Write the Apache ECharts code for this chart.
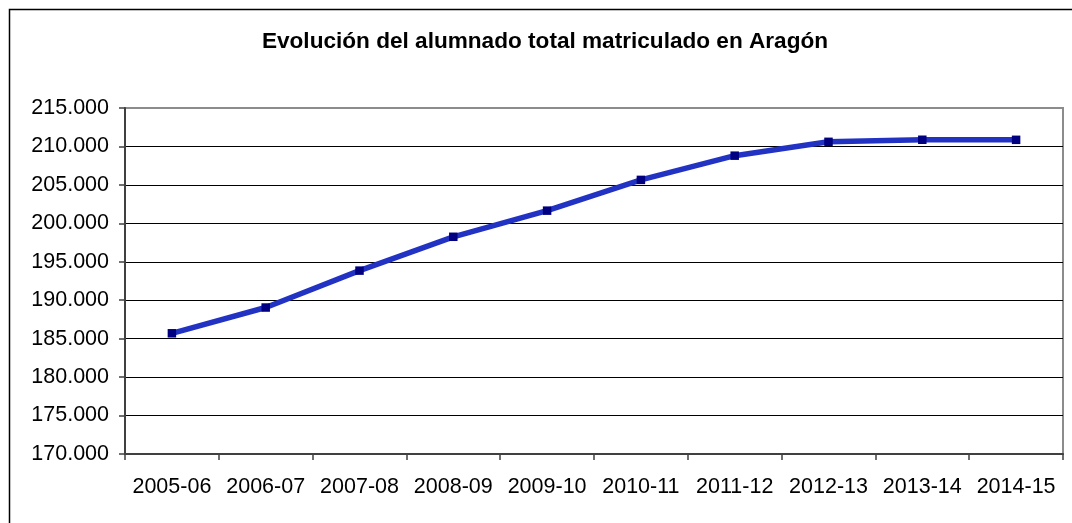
<!DOCTYPE html>
<html>
<head>
<meta charset="utf-8">
<script src="https://cdn.jsdelivr.net/npm/echarts@6/dist/echarts.min.js"></script>
<style>
html,body{margin:0;padding:0;background:#fff;}
#chart{width:1072px;height:523px;}
</style>
</head>
<body>
<div id="chart"></div>
<script>
const titleText = "Evolución del alumnado total matriculado en Aragón";
const categories = ["2005-06","2006-07","2007-08","2008-09","2009-10","2010-11","2011-12","2012-13","2013-14","2014-15"];
const alumnado = [185700, 189050, 193850, 198250, 201650, 205650, 208800, 210600, 210870, 210860];
const yMin = 170000, yMax = 215000, yStep = 5000;

function fmt(v){ return String(v).replace(/\B(?=(\d{3})+(?!\d))/g, '.'); }

const chart = echarts.init(document.getElementById('chart'), null, {renderer:'canvas'});
const gridColors = [];
for (let v = yMin; v <= yMax; v += yStep) gridColors.push(v === yMax ? '#8c8c8c' : '#000000');

chart.setOption({
  animation:false,
  backgroundColor:'#ffffff',
  title:{
    text:titleText, left:540, top:25, textAlign:'center',
    textStyle:{fontFamily:'Liberation Sans, Arial, sans-serif', fontWeight:'bold', fontSize:22.6, color:'#000'}
  },
  graphic:[{
    type:'rect', left:7, top:7, z:-1,
    shape:{x:0,y:0,width:1100,height:600},
    style:{fill:'none', stroke:'#000', lineWidth:1.5}
  }],
  grid:{left:125, right:9, top:108, bottom:69, show:true, borderColor:'#8c8c8c', borderWidth:2, backgroundColor:'#fff'},
  xAxis:{
    type:'category', data:categories, boundaryGap:true,
    axisLine:{lineStyle:{color:'#404040', width:2}},
    axisTick:{show:true, length:6, lineStyle:{color:'#404040', width:1.5}},
    axisLabel:{margin:22, fontFamily:'Liberation Sans, Arial, sans-serif', fontSize:21.5, color:'#000', interval:0},
    splitLine:{show:false}
  },
  yAxis:{
    type:'value', min:yMin, max:yMax, interval:yStep,
    axisLine:{show:true, lineStyle:{color:'#404040', width:2}},
    axisTick:{show:true, length:6, lineStyle:{color:'#404040', width:1.5}},
    axisLabel:{margin:16, formatter:fmt, fontFamily:'Liberation Sans, Arial, sans-serif', fontSize:21.5, color:'#000'},
    splitLine:{show:true, lineStyle:{color:gridColors, width:1.2}}
  },
  series:[{
    type:'line', data:alumnado,
    lineStyle:{color:'#2233c4', width:5.5},
    symbol:'rect', symbolSize:8.5,
    itemStyle:{color:'#000080', borderWidth:0},
    smooth:false
  }]
});
</script>
</body>
</html>
